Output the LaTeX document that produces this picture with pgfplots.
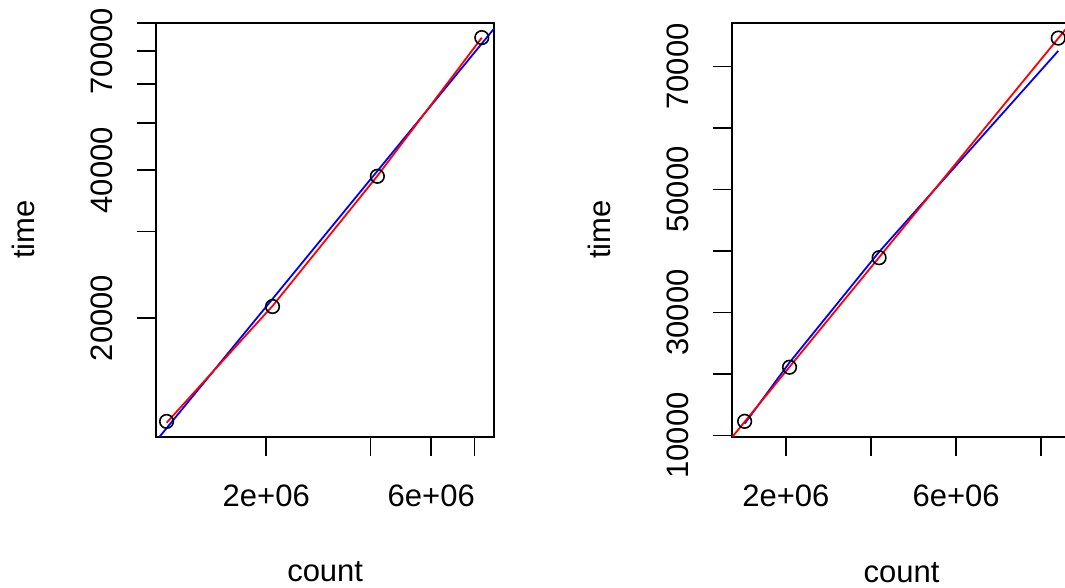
\documentclass[border=0pt]{standalone}
\usepackage{fontspec}
\setmainfont{Liberation Sans}
\usepackage{pgfplots}
\usepackage{pgfplotstable}
\pgfplotsset{compat=1.18}

% measured runs
\pgfplotstableread{
count time
1030000 12300
2085000 21100
4190000 38900
8400000 74600
}\runs

% fitted values of the linear model time ~ count
\pgfplotstableread{
count time
1030000 12226
2085000 21150
4190000 38957
8400000 74569
}\linfit

% fitted values of the power model log(time) ~ log(count)
\pgfplotstableread{
count time
1030000 11918
2085000 21865
4190000 39847
8400000 72520
}\powfit

\pgfplotsset{
  rpanel/.style={
    scale only axis, width=338.3pt, height=414pt, anchor=south west,
    axis line style={line width=1.7pt},
    tick align=outside, tick pos=left,
    major tick length=19.5pt,
    major tick style={line width=1.7pt, black},
    minor tick num=0,
    scaled ticks=false,
    tick label style={font=\fontsize{31}{37}\selectfont},
    label style={font=\fontsize{31}{37}\selectfont},
    xticklabel style={anchor=base, yshift=-50.5pt},
    yticklabel style={xshift=-24.5pt, rotate=90, anchor=base},
    xlabel={count}, ylabel={time},
    xlabel style={at={(axis description cs:0.5,-0.351)}, anchor=base},
    ylabel style={at={(axis description cs:-0.3594,0.5)}, anchor=base},
    xtick={2000000,4000000,6000000,8000000},
    xticklabels={2e+06,{},6e+06,{}},
  },
  pts/.style={only marks, mark=o, mark size=6.8pt, mark options={line width=1.6pt, black}},
  fitline/.style={no markers, line width=1.8pt},
}

\begin{document}
\begin{tikzpicture}
\path[use as bounding box, clip] (0,0) rectangle (1065pt,-587pt);

% log-log panel
\begin{axis}[rpanel, at={(156pt,-436.7pt)},
  xmode=log, ymode=log,
  xmin=960000, xmax=9130000, ymin=11450, ymax=80000,
  ytick={20000,30000,40000,50000,60000,70000,80000},
  yticklabels={20000,{},40000,{},{},70000,{}},
]
\addplot[pts] table[x=count, y=time] {\runs};
\addplot[fitline, blue] coordinates {(500000,6399) (20000000,152990)};
\addplot[fitline, red] table[x=count, y=time] {\linfit};
\end{axis}

% linear panel
\begin{axis}[rpanel, at={(732.3pt,-436.7pt)},
  xmin=740000, xmax=8690000, ymin=9800, ymax=77100,
  ytick={10000,20000,30000,40000,50000,60000,70000},
  yticklabels={10000,{},30000,{},50000,{},70000},
]
\addplot[pts] table[x=count, y=time] {\runs};
\addplot[fitline, blue] table[x=count, y=time] {\powfit};
\addplot[fitline, red] coordinates {(0,3513) (10000000,88104)};
\end{axis}
\end{tikzpicture}
\end{document}
